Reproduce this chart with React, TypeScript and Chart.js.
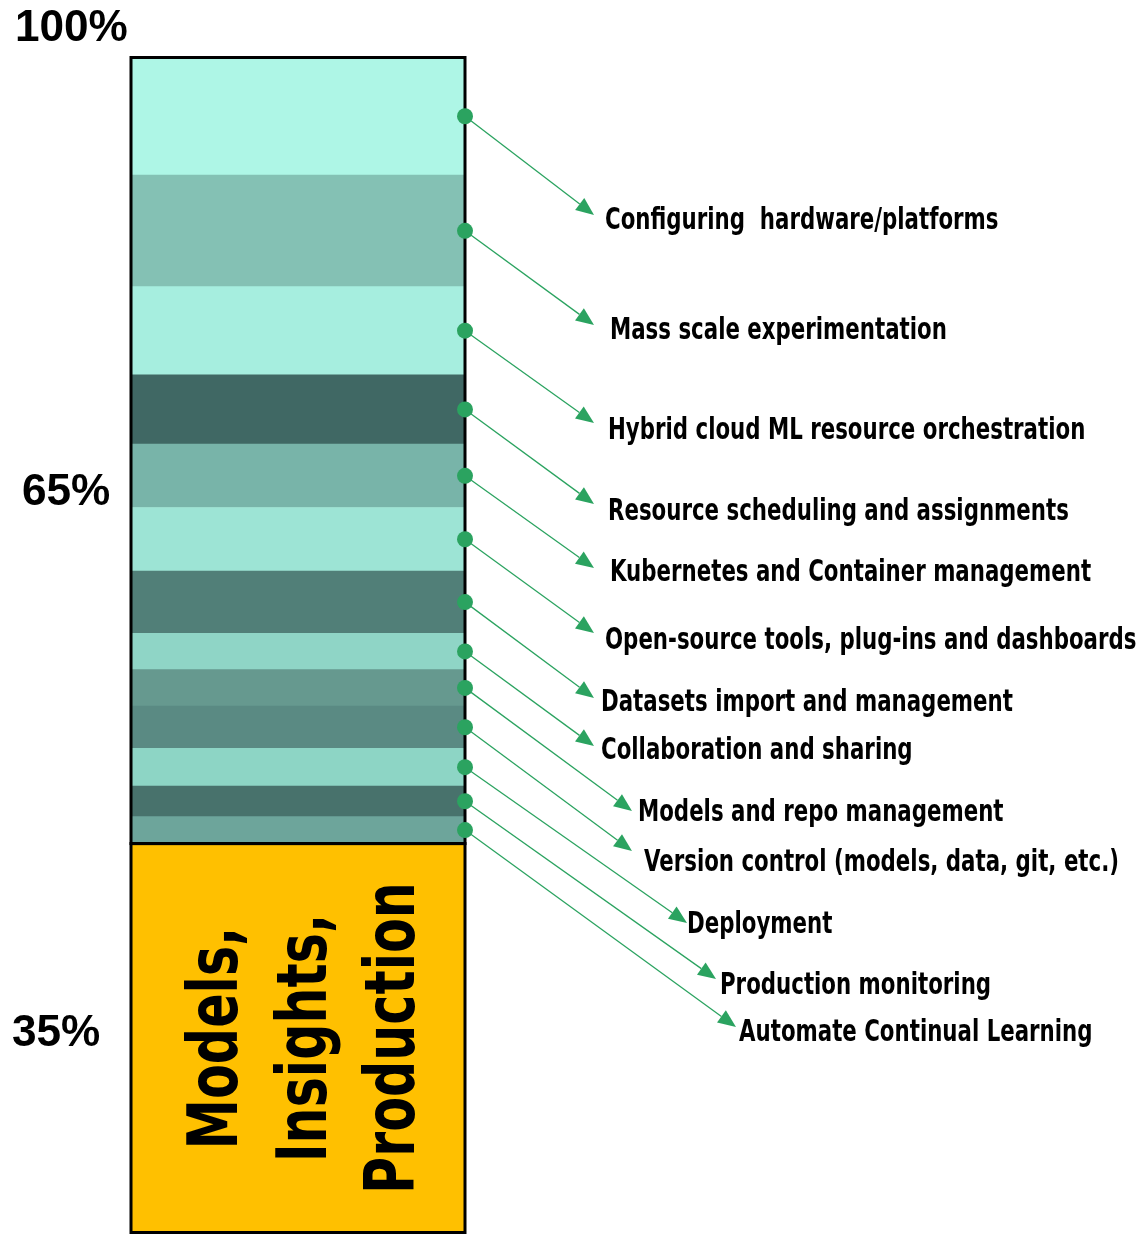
import React, { useEffect, useRef } from "react";
import { Chart, registerables } from "chart.js";

Chart.register(...registerables);

// ---------- data ----------
const categories = ["Effort"];

// stacked segments listed from top of the bar to the bottom
const segmentLabels = [
  "Configuring  hardware/platforms",
  "Mass scale experimentation",
  "Hybrid cloud ML resource orchestration",
  "Resource scheduling and assignments",
  "Kubernetes and Container management",
  "Open-source tools, plug-ins and dashboards",
  "Datasets import and management",
  "Collaboration and sharing",
  "Models and repo management",
  "Version control (models, data, git, etc.)",
  "Deployment",
  "Production monitoring",
  "Automate Continual Learning",
];
const segmentValues = [10.0, 9.5, 7.5, 5.9, 5.4, 5.4, 5.3, 3.1, 3.1, 3.6, 3.2, 2.6, 2.3];
const segmentColors = [
  "#AEF6E6",
  "#84C1B4",
  "#A6EEDF",
  "#406864",
  "#78B4A9",
  "#9DE4D5",
  "#517F78",
  "#8FD5C6",
  "#66998F",
  "#5A8A83",
  "#8DD5C5",
  "#48726C",
  "#6DA59B",
];

const baseLabel = "Models, Insights, Production";
const baseLines = ["Models,", "Insights,", "Production"];
const baseValue = 33.1;
const baseColor = "#FFC000";

const percentLabels = ["100%", "65%", "35%"];

// ---------- layout (pixels) ----------
const arrowTips: [number, number][] = [
  [594, 215], [594, 325], [594, 423], [594, 504], [594, 568], [594, 633],
  [594, 698], [594, 746], [632, 811], [632, 851], [687, 923], [716, 979], [736, 1027],
];
const labelAnchors: [number, number][] = [
  [605, 221], [610, 331], [608, 431], [608, 512], [610, 573], [605, 641],
  [601, 703], [601, 751], [638, 813], [644, 863], [687, 925], [720, 986], [739, 1033],
];
const percentAnchors: [number, number][] = [[15, 29], [22, 493], [12, 1034]];

const GREEN = "#2BA360";
const CONDENSED = '"DejaVu Sans Condensed", "DejaVu Sans", sans-serif';

function squeezedText(
  ctx: CanvasRenderingContext2D,
  text: string,
  x: number,
  y: number,
  sx: number
) {
  ctx.save();
  ctx.translate(x, y);
  ctx.scale(sx, 1);
  ctx.fillText(text, 0, 0);
  ctx.restore();
}

const overlayPlugin = {
  id: "overlay",
  afterDatasetsDraw(chart: any) {
    const ctx: CanvasRenderingContext2D = chart.ctx;
    const y = chart.scales.y;
    const bar = chart.getDatasetMeta(0).data[0];
    const left = bar.x - bar.width / 2;
    const right = bar.x + bar.width / 2;
    const total = baseValue + segmentValues.reduce((a, b) => a + b, 0);
    const yTop = y.getPixelForValue(total);
    const yBase = y.getPixelForValue(baseValue);
    const yZero = y.getPixelForValue(0);

    ctx.save();
    // outlines
    ctx.strokeStyle = "#000";
    ctx.lineWidth = 3;
    ctx.strokeRect(left, yTop, right - left, yBase - yTop);
    ctx.strokeRect(left, yBase, right - left, yZero - yBase);

    // rotated base text
    ctx.save();
    ctx.translate(bar.x, (yBase + yZero) / 2);
    ctx.rotate(-Math.PI / 2);
    ctx.fillStyle = "#000";
    ctx.font = `bold 70px ${CONDENSED}`;
    ctx.textAlign = "center";
    ctx.textBaseline = "alphabetic";
    baseLines.forEach((line, i) => {
      squeezedText(ctx, line, 0, -61 + i * 88.5, 0.805);
    });
    ctx.restore();

    // leaders
    let top = total;
    segmentValues.forEach((v, i) => {
      const mid = top - v / 2;
      top -= v;
      const px = right;
      const py = y.getPixelForValue(mid);
      const [tx, ty] = arrowTips[i];
      const dx = tx - px;
      const dy = ty - py;
      const len = Math.hypot(dx, dy);
      const ux = dx / len;
      const uy = dy / len;
      const L = 18;
      const W = 7.5;
      const bx = tx - ux * L;
      const by = ty - uy * L;
      ctx.strokeStyle = GREEN;
      ctx.lineWidth = 1.3;
      ctx.beginPath();
      ctx.moveTo(px, py);
      ctx.lineTo(bx, by);
      ctx.stroke();
      ctx.fillStyle = GREEN;
      ctx.beginPath();
      ctx.moveTo(tx, ty);
      ctx.lineTo(bx - uy * W, by + ux * W);
      ctx.lineTo(bx + uy * W, by - ux * W);
      ctx.closePath();
      ctx.fill();
      ctx.beginPath();
      ctx.arc(px, py, 8, 0, Math.PI * 2);
      ctx.fill();

      const [lx, ly] = labelAnchors[i];
      ctx.fillStyle = "#000";
      ctx.font = `bold 30px ${CONDENSED}`;
      ctx.textAlign = "left";
      ctx.textBaseline = "middle";
      squeezedText(ctx, segmentLabels[i], lx, ly, 0.79);
    });

    // percent labels
    ctx.fillStyle = "#000";
    ctx.font = 'bold 45px "Liberation Sans", Arial, sans-serif';
    ctx.textAlign = "left";
    ctx.textBaseline = "middle";
    percentLabels.forEach((t, i) => {
      const [lx, ly] = percentAnchors[i];
      squeezedText(ctx, t, lx, ly, 0.98);
    });
    ctx.restore();
  },
};

export default function App() {
  const canvasRef = useRef<HTMLCanvasElement | null>(null);

  useEffect(() => {
    if (!canvasRef.current) return;
    const datasets = [
      { label: baseLabel, data: [baseValue], backgroundColor: baseColor, borderWidth: 0 },
      ...segmentLabels
        .map((label, i) => ({
          label,
          data: [segmentValues[i]],
          backgroundColor: segmentColors[i],
          borderWidth: 0,
        }))
        .reverse(),
    ];
    const chart = new Chart(canvasRef.current, {
      type: "bar",
      data: { labels: categories, datasets },
      options: {
        responsive: false,
        animation: false,
        devicePixelRatio: 1,
        layout: { padding: { left: 131, right: 680, top: 57.5, bottom: 1.5 } },
        datasets: { bar: { barPercentage: 1, categoryPercentage: 1 } },
        scales: {
          x: { stacked: true, display: false },
          y: { stacked: true, display: false, min: 0, max: 100 },
        },
        plugins: { legend: { display: false }, tooltip: { enabled: false } },
      },
      plugins: [overlayPlugin],
    });
    return () => chart.destroy();
  }, []);

  return (
    <div style={{ position: "absolute", left: 0, top: 0, width: 1145, height: 1234, background: "#fff" }}>
      <canvas ref={canvasRef} width={1145} height={1234} />
    </div>
  );
}
